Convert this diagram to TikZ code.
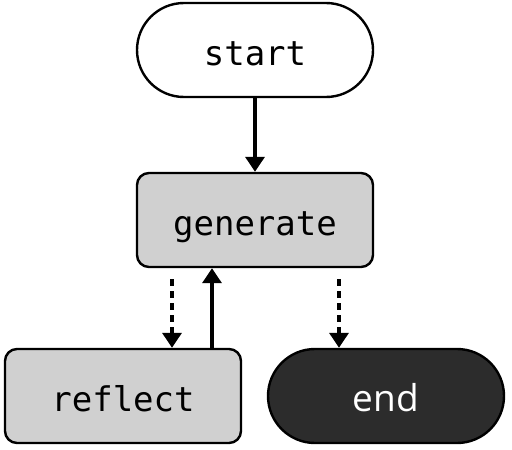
\documentclass[tikz,border=0pt]{standalone}
\usepackage{fontspec}
\setmonofont{DejaVu Sans Mono}
\newfontfamily\endfont{Open Sans}
\usetikzlibrary{arrows.meta}
\definecolor{boxgray}{HTML}{D0D0D0}
\definecolor{termdark}{HTML}{2C2C2C}
\tikzset{
  flowbase/.style={draw=black, line width=2.4pt, inner sep=0pt,
    text height=32pt, text depth=2pt,
    minimum width=236pt, minimum height=94pt, font=\ttfamily\fontsize{34}{40}\selectfont},
  terminal/.style={flowbase, rounded corners=47pt},
  process/.style={flowbase, fill=boxgray, rounded corners=12pt},
  endterm/.style={terminal, fill=termdark, text=white, font=\endfont\fontsize{37}{44}\selectfont},
  link/.style={line width=3.4pt, -{Triangle[length=15pt,width=19pt]}},
  dotlink/.style={link, dash pattern=on 7pt off 5pt},
}
\begin{document}
\begin{tikzpicture}[x=1pt, y=-1pt]
  \useasboundingbox (0,0) rectangle (512,450);
  \node[terminal] (start) at (255,50) {start};
  \node[process] (generate) at (255,220) {generate};
  \node[process] (reflect) at (123,396) {reflect};
  \node[endterm] (end) at (386,396) {end};

  \coordinate (rin) at ([xshift=49pt]reflect.north);
  \coordinate (rout) at ([xshift=89pt]reflect.north);
  \coordinate (gout) at ([xshift=84pt,yshift=-11pt]generate.south);

  \draw[link] (start) -- (generate);
  \draw[dotlink] ([yshift=-11pt]rin |- generate.south) -- (rin);
  \draw[link] (rout) -- (rout |- generate.south);
  \draw[dotlink] (gout) -- (gout |- end.north);
\end{tikzpicture}
\end{document}
